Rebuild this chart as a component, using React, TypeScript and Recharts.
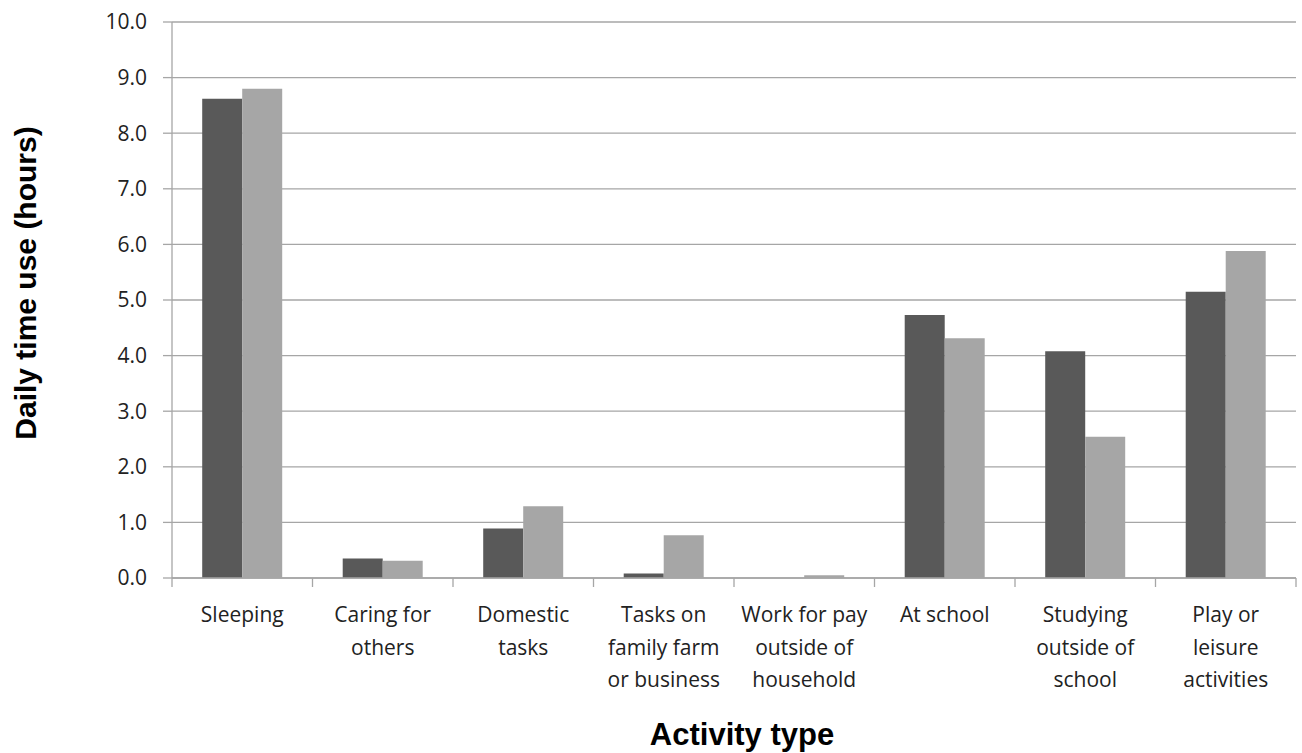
import { Bar, BarChart, CartesianGrid, Label, XAxis, YAxis } from "recharts"

// Average daily hours per activity, two groups of children
const activities = [
    "Sleeping",
    "Caring for\nothers",
    "Domestic\ntasks",
    "Tasks on\nfamily farm\nor business",
    "Work for pay\noutside of\nhousehold",
    "At school",
    "Studying\noutside of\nschool",
    "Play or\nleisure\nactivities",
]
const groupA = [8.62, 0.35, 0.89, 0.08, 0.0, 4.73, 4.08, 5.15]
const groupB = [8.8, 0.31, 1.29, 0.77, 0.05, 4.31, 2.54, 5.88]
const yTicks = [0, 1, 2, 3, 4, 5, 6, 7, 8, 9, 10]

const data = activities.map((name, i) => ({ name, a: groupA[i], b: groupB[i] }))

const WIDTH = 1302
const HEIGHT = 753
const PLOT_LEFT = 172
const PLOT_RIGHT = 1296
const BAND = (PLOT_RIGHT - PLOT_LEFT) / activities.length
const GRID = "#a6a6a6"
const LABEL_FONT = "'Open Sans', sans-serif"
const TITLE_FONT = "'Liberation Sans', Arial, sans-serif"

function CategoryTick(props: any) {
    const { x, y, payload, index } = props
    const lines = String(payload.value).split("\n")
    const last = index === activities.length - 1
    return (
        <g>
            <line x1={x - BAND / 2} x2={x - BAND / 2} y1={y} y2={y + 9} stroke={GRID} strokeWidth={1.3} />
            {last && <line x1={x + BAND / 2} x2={x + BAND / 2} y1={y} y2={y + 9} stroke={GRID} strokeWidth={1.3} />}
            {lines.map((line, i) => (
                <text
                    key={i}
                    x={x}
                    y={y + 44 + i * 32.5}
                    textAnchor="middle"
                    fontFamily={LABEL_FONT}
                    fontSize={21}
                    fill="#222"
                >
                    {line}
                </text>
            ))}
        </g>
    )
}

export default function App() {
    return (
        <div style={{ position: "absolute", left: 0, top: 0, background: "#fff" }}>
            <BarChart
                width={WIDTH}
                height={HEIGHT}
                data={data}
                margin={{ top: 22, right: WIDTH - PLOT_RIGHT, left: 0, bottom: 0 }}
                barCategoryGap="21.5%"
                barGap={0}
            >
                <CartesianGrid vertical={false} stroke={GRID} strokeWidth={1.3} />
                <XAxis
                    dataKey="name"
                    height={HEIGHT - 578}
                    interval={0}
                    tickLine={false}
                    tickSize={0}
                    tickMargin={0}
                    stroke={GRID}
                    strokeWidth={1.3}
                    tick={<CategoryTick />}
                >
                    <Label
                        content={() => (
                            <text
                                x={742}
                                y={745}
                                textAnchor="middle"
                                fontFamily={TITLE_FONT}
                                fontWeight="bold"
                                fontSize={31}
                                fill="#000"
                            >
                                Activity type
                            </text>
                        )}
                    />
                </XAxis>
                <YAxis
                    width={PLOT_LEFT}
                    domain={[0, 10]}
                    ticks={yTicks}
                    interval={0}
                    tickFormatter={(v: number) => v.toFixed(1)}
                    tickSize={9}
                    tickMargin={16}
                    stroke={GRID}
                    strokeWidth={1.3}
                    tick={{ fontFamily: LABEL_FONT, fontSize: 21, fill: "#222" }}
                >
                    <Label
                        content={() => (
                            <text
                                x={36}
                                y={283}
                                transform="rotate(-90 36 283)"
                                textAnchor="middle"
                                fontFamily={TITLE_FONT}
                                fontWeight="bold"
                                fontSize={30}
                                fill="#000"
                            >
                                Daily time use (hours)
                            </text>
                        )}
                    />
                </YAxis>
                <Bar dataKey="a" fill="#595959" isAnimationActive={false} />
                <Bar dataKey="b" fill="#a6a6a6" isAnimationActive={false} />
            </BarChart>
        </div>
    )
}
